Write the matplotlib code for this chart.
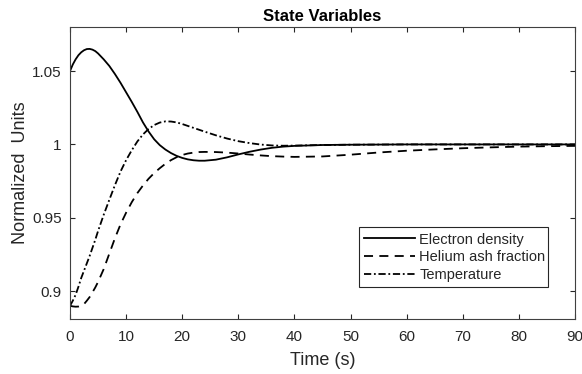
import matplotlib
matplotlib.use("Agg")
import matplotlib.pyplot as plt

plt.rcParams['font.family'] = ['Liberation Sans', 'DejaVu Sans']

# ---- data ----
t = [0, 0.5, 1, 1.5, 2, 2.5, 3, 3.5, 4, 4.5, 5,
     6, 7, 8, 9, 10, 11, 12, 13, 14, 15, 16, 17, 18, 19, 20, 21, 22, 23, 24,
     26, 28, 30, 32, 34, 36, 38, 40,
     45, 50, 55, 60, 65, 70, 75, 80, 85, 90]

electron_density = [1.0500, 1.0545, 1.0580, 1.0608, 1.0628, 1.0642, 1.0650, 1.0651, 1.0646, 1.0636, 1.0620,
                    1.0580, 1.0535, 1.0480, 1.0420, 1.0355, 1.0290, 1.0222, 1.0150, 1.0088, 1.0035,
                    0.9995, 0.9965, 0.9941, 0.9922, 0.9908, 0.9898, 0.9892, 0.9889, 0.9889,
                    0.9896, 0.9912, 0.9932, 0.9950, 0.9965, 0.9977, 0.9985, 0.9990,
                    0.9996, 0.9998, 0.9999, 1.0000, 1.0000, 1.0000, 1.0000, 1.0000, 1.0000, 1.0000]

helium_ash = [0.8900, 0.8896, 0.8894, 0.8895, 0.8900, 0.8912, 0.8935, 0.8960, 0.8992, 0.9025, 0.9063,
              0.9150, 0.9255, 0.9360, 0.9455, 0.9535, 0.9606, 0.9668, 0.9720, 0.9766, 0.9805,
              0.9838, 0.9868, 0.9893, 0.9913, 0.9928, 0.9938, 0.9944, 0.9948, 0.9949,
              0.9948, 0.9944, 0.9938, 0.9931, 0.9925, 0.9920, 0.9917, 0.9915,
              0.9918, 0.9930, 0.9945, 0.9957, 0.9966, 0.9974, 0.9980, 0.9985, 0.9988, 0.9990]

temperature = [0.8900, 0.8935, 0.8975, 0.9030, 0.9090, 0.9140, 0.9190, 0.9240, 0.9295, 0.9350, 0.9410,
               0.9520, 0.9622, 0.9722, 0.9815, 0.9893, 0.9960, 1.0020, 1.0068, 1.0105, 1.0132,
               1.0149, 1.0157, 1.0156, 1.0150, 1.0139, 1.0126, 1.0113, 1.0100, 1.0087,
               1.0062, 1.0040, 1.0022, 1.0009, 0.9999, 0.9993, 0.9991, 0.9992,
               0.9996, 0.9998, 0.9999, 1.0000, 1.0000, 1.0000, 1.0000, 1.0000, 1.0000, 1.0000]

labels = ['Electron density', 'Helium ash fraction', 'Temperature']
xticks = [0, 10, 20, 30, 40, 50, 60, 70, 80, 90]
yticks = [0.9, 0.95, 1.0, 1.05]
yticklabels = ['0.9', '0.95', '1', '1.05']

# ---- figure ----
fig = plt.figure(figsize=(5.82, 3.74), dpi=100)
ax = fig.add_axes([0.1203, 0.147, 0.8677, 0.7807])

ax.plot(t, electron_density, color='black', linestyle='-', linewidth=1.3, label=labels[0])
ax.plot(t, helium_ash, color='black', linestyle=(0, (5, 3.5)), linewidth=1.3, label=labels[1])
ax.plot(t, temperature, color='black', linestyle=(0, (4, 1.5, 1, 1.5)), linewidth=1.3, label=labels[2])

ax.set_xlim(0, 90)
ax.set_ylim(0.881, 1.080)
ax.set_xticks(xticks)
ax.set_yticks(yticks)
ax.set_yticklabels(yticklabels)

tc = '#262626'
ax.tick_params(direction='in', top=True, right=True, length=3.5, width=0.8,
               labelsize=11, colors=tc)
ax.tick_params(axis='x', pad=8)
ax.tick_params(axis='y', pad=6)
for s in ax.spines.values():
    s.set_color('#404040')
    s.set_linewidth(0.8)

ax.set_xlabel('Time (s)', fontsize=13, color=tc, labelpad=6)
ax.set_ylabel('Normalized  Units', fontsize=13, color=tc, labelpad=2)
ax.set_title('State Variables', fontsize=12, fontweight='bold', color='black', pad=4)

leg = ax.legend(loc='lower left', bbox_to_anchor=(0.572, 0.11, 0.375, 0.212), mode='expand',
                fontsize=10.5, handlelength=3.5, handletextpad=0.3, labelspacing=0.25,
                borderpad=0.35, borderaxespad=0, fancybox=False, framealpha=1)
leg.get_frame().set_edgecolor('#262626')
leg.get_frame().set_linewidth(0.8)
for txt in leg.get_texts():
    txt.set_color(tc)

fig.savefig('out.png', dpi=100)
